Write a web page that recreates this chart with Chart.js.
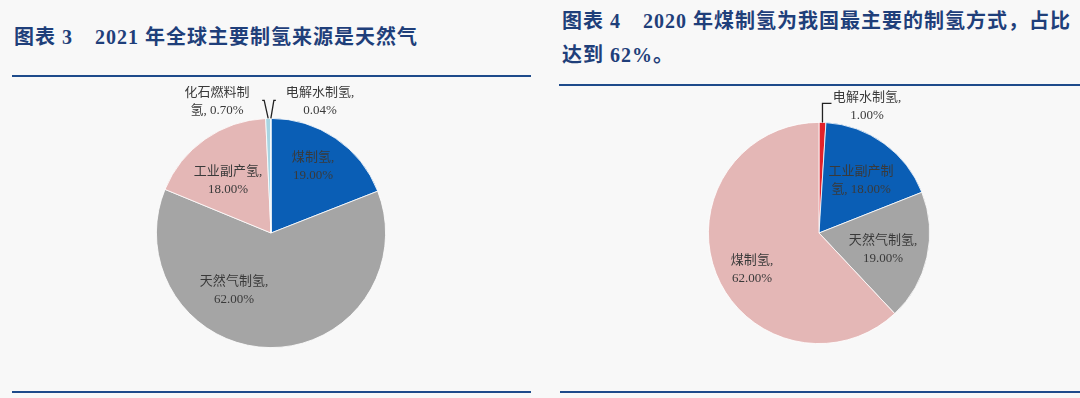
<!DOCTYPE html>
<html lang="zh">
<head>
<meta charset="UTF-8">
<title>制氢来源</title>
<script src="https://cdn.jsdelivr.net/npm/chart.js"></script>
<style>
    body {
        margin: 0;
        width: 1080px;
        height: 398px;
        background: #f8f8f8;
        position: relative;
        overflow: hidden;
        font-family: "Liberation Serif", "Noto Sans CJK SC", serif;
    }
    .title {
        position: absolute;
        color: #1f3f7a;
        font-weight: bold;
        font-size: 20px;
        letter-spacing: 1px;
        line-height: 34px;
        white-space: nowrap;
    }
    .gap { display: inline-block; width: 22px; }
    .rule {
        position: absolute;
        height: 2px;
        background: #1e4b8b;
    }
    .box {
        position: absolute;
        top: 86px;
        width: 540px;
        height: 274px;
    }
</style>
</head>
<body>
    <div class="title" style="left:14px; top:20px;">图表 3<span class="gap"></span>2021 年全球主要制氢来源是天然气</div>
    <div class="rule" style="left:12px; width:519px; top:75px;"></div>
    <div class="title" style="left:562px; top:4px;">图表 4<span class="gap"></span>2020 年煤制氢为我国最主要的制氢方式，占比<br>达到 62%。</div>
    <div class="rule" style="left:559px; width:521px; top:84px;"></div>
    <div class="rule" style="left:12px; width:519px; top:391px;"></div>
    <div class="rule" style="left:560px; width:520px; top:391px;"></div>

    <div class="box" style="left:0;"><canvas id="globalChart" width="540" height="274"></canvas></div>
    <div class="box" style="left:540px;"><canvas id="chinaChart" width="540" height="274"></canvas></div>

<script>
    // 图表 3: 2021 全球
    const globalLabels = ['煤制氢', '天然气制氢', '工业副产氢', '化石燃料制氢', '电解水制氢'];
    const globalValues = [19.00, 62.00, 18.00, 0.70, 0.04];
    const globalColors = ['#0a5eb5', '#a5a5a5', '#e4b7b6', '#a8d5e2', '#a8d5e2'];

    // 图表 4: 2020 中国
    const chinaLabels = ['电解水制氢', '工业副产制氢', '天然气制氢', '煤制氢'];
    const chinaValues = [1.00, 18.00, 19.00, 62.00];
    const chinaColors = ['#e3222a', '#0a5eb5', '#a5a5a5', '#e4b7b6'];

    // text lines for a slice label: name + value, optionally broken after n chars
    function labelLines(name, value, breakAt) {
        const pct = value.toFixed(2) + '%';
        if (breakAt) return [name.slice(0, breakAt), name.slice(breakAt) + ', ' + pct];
        return [name + ',', pct];
    }

    const pieLabels = {
        id: 'pieLabels',
        afterDatasetsDraw(chart, args, opts) {
            const ctx = chart.ctx;
            const meta = chart.getDatasetMeta(0);
            const cx = meta.data[0].x, cy = meta.data[0].y;
            const labels = chart.data.labels;
            const values = chart.data.datasets[0].data;

            ctx.save();
            ctx.font = '13px "Liberation Serif", "Noto Sans CJK SC", serif';
            ctx.fillStyle = '#3a3a3a';
            ctx.textAlign = 'center';
            ctx.textBaseline = 'middle';
            opts.places.forEach((p, i) => {
                const lines = labelLines(labels[i], values[i], p.breakAt);
                ctx.fillText(lines[0], cx + p.dx, cy + p.dy - 9);
                ctx.fillText(lines[1], cx + p.dx, cy + p.dy + 9);
            });

            // leader lines from the small slices
            ctx.strokeStyle = '#222';
            ctx.lineWidth = 1.3;
            (opts.leaders || []).forEach(l => {
                const arc = meta.data[l.index];
                const mid = (arc.startAngle + arc.endAngle) / 2;
                const px = arc.x + Math.cos(mid) * arc.outerRadius;
                const py = arc.y + Math.sin(mid) * arc.outerRadius;
                ctx.beginPath();
                ctx.moveTo(px, py);
                ctx.lineTo(px + l.dx, py + l.dy);
                ctx.lineTo(px + l.dx + l.tick, py + l.dy);
                ctx.stroke();
            });
            ctx.restore();
        }
    };

    function makePie(id, labels, values, colors, padding, places, leaders) {
        return new Chart(document.getElementById(id), {
            type: 'pie',
            data: {
                labels: labels,
                datasets: [{
                    data: values,
                    backgroundColor: colors,
                    borderColor: '#ffffff',
                    borderWidth: 0.8
                }]
            },
            options: {
                responsive: false,
                animation: false,
                layout: { padding: padding },
                plugins: {
                    legend: { display: false },
                    tooltip: { enabled: false },
                    pieLabels: { places: places, leaders: leaders }
                }
            },
            plugins: [pieLabels]
        });
    }

    makePie('globalChart', globalLabels, globalValues, globalColors,
        { top: 32, bottom: 12, left: 156, right: 154 },
        [
            { dx: 42, dy: -66 },
            { dx: -37, dy: 58 },
            { dx: -43, dy: -52 },
            { dx: -54, dy: -131, breakAt: 5 },
            { dx: 49, dy: -131 }
        ],
        [
            { index: 3, dx: -4, dy: -18, tick: -2 },
            { index: 4, dx: 3, dy: -18, tick: 2 }
        ]);

    makePie('chinaChart', chinaLabels, chinaValues, chinaColors,
        { top: 36, bottom: 16, left: 168, right: 150 },
        [
            { dx: 48, dy: -126 },
            { dx: 42, dy: -52, breakAt: 5 },
            { dx: 64, dy: 17 },
            { dx: -67, dy: 37 }
        ],
        [
            { index: 0, dx: 0, dy: -19, tick: 9 }
        ]);
</script>
</body>
</html>
